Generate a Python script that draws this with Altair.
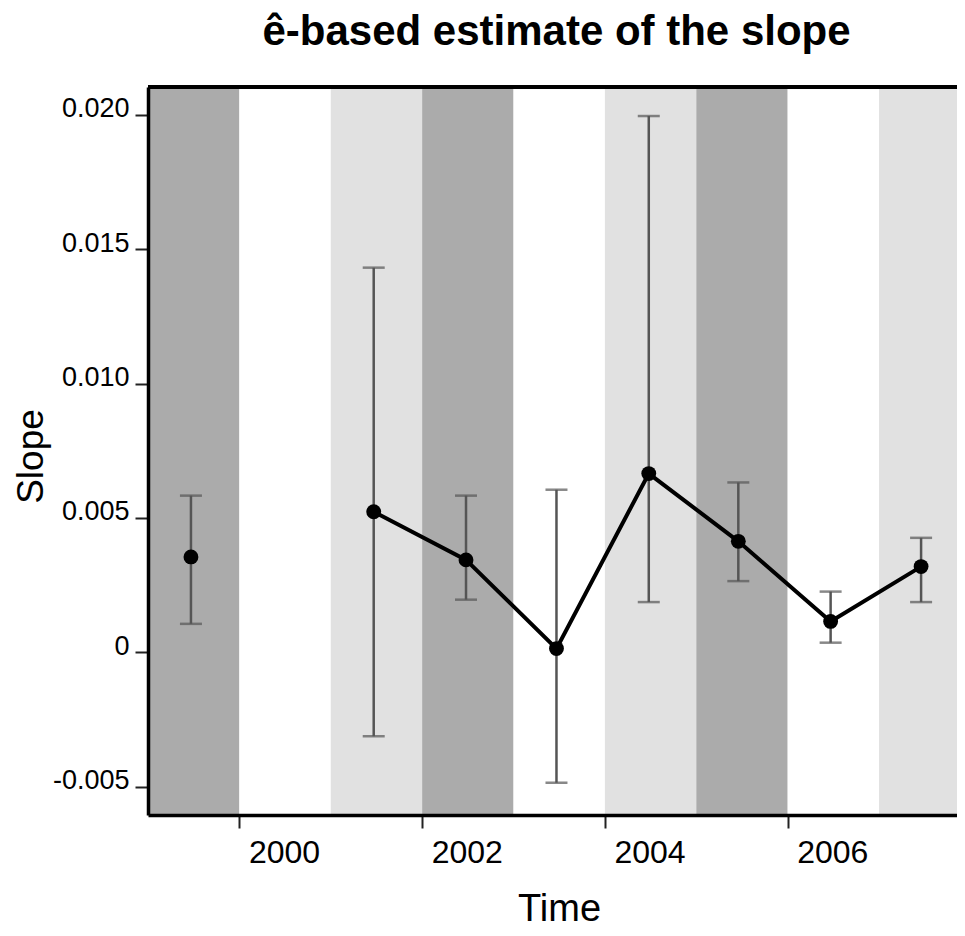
import altair as alt
import pandas as pd

# Point estimates (x = time, mid-year positions)
times = [1999.47, 2001.47, 2002.48, 2003.47, 2004.48, 2005.46, 2006.47, 2007.46]
estimates = [0.00355, 0.00523, 0.00344, 0.00014, 0.00665, 0.00413, 0.00115, 0.00319]
lower = [0.00106, -0.00312, 0.00196, -0.00485, 0.00187, 0.00265, 0.00036, 0.00187]
upper = [0.00583, 0.01431, 0.00583, 0.00605, 0.01995, 0.00632, 0.00226, 0.00426]
segment = [0, 1, 1, 1, 1, 1, 1, 1]

# Background year bands
band_start = [1999, 2000, 2001, 2002, 2003, 2004, 2005, 2006, 2007]
band_end = [2000, 2001, 2002, 2003, 2004, 2005, 2006, 2007, 2008]
band_shade = ["dark", "white", "light", "dark", "white", "light", "dark", "white", "light"]

x_ticks = [2000, 2002, 2004, 2006]
y_ticks = [-0.005, 0, 0.005, 0.010, 0.015, 0.020]

pts = pd.DataFrame({"t": times, "est": estimates, "lo": lower, "hi": upper, "seg": segment})
bands = pd.DataFrame({"start": band_start, "end": band_end, "shade": band_shade})

W, H = 809, 728
FONT = "Liberation Sans"

xscale = alt.Scale(domain=[1999, 2007.853], nice=False, zero=False)
yscale = alt.Scale(domain=[-0.00605, 0.02103], nice=False, zero=False)

x_axis = alt.Axis(
    values=x_ticks, format="d", grid=False, title="Time",
    domainColor="black", domainWidth=3.5, tickColor="#222", tickWidth=2, tickSize=13,
    labelFont=FONT, labelFontSize=32, labelColor="black", labelAlign="left", labelOffset=9,
    labelBaseline="top", labelPadding=9, labelFlush=False, labelOverlap=False,
    titleFont=FONT, titleFontSize=38, titleFontWeight="normal", titleColor="black",
    titleBaseline="alphabetic", titleY=105, titleX=411, zindex=1,
)
y_axis = alt.Axis(
    values=y_ticks, grid=False, title="Slope",
    labelExpr="datum.value == 0 ? '0' : replace(format(datum.value, '.3f'), '\u2212', '-')",
    domainColor="black", domainWidth=3.5, tickColor="#222", tickWidth=2, tickSize=13,
    labelFont=FONT, labelFontSize=27, labelColor="black", labelPadding=6,
    labelBaseline="alphabetic", labelOffset=2, labelFlush=False, labelOverlap=False,
    titleFont=FONT, titleFontSize=37, titleFontWeight="normal", titleColor="black",
    titleBaseline="alphabetic", titleX=-106, titleY=H / 2 + 5, titleAngle=270, zindex=1,
)

band_layer = alt.Chart(bands).mark_rect(clip=True).encode(
    x=alt.X("start:Q", scale=xscale, axis=x_axis),
    x2="end:Q",
    y=alt.value(0),
    y2=alt.value(H),
    color=alt.Color("shade:N", legend=None,
                    scale=alt.Scale(domain=["dark", "white", "light"],
                                    range=["#ababab", "#ffffff", "#e1e1e1"])),
)

base = alt.Chart(pts)

err_layer = base.mark_rule(color="#555555", strokeWidth=2.5).encode(
    x=alt.X("t:Q", scale=xscale),
    y=alt.Y("lo:Q", scale=yscale, axis=y_axis),
    y2="hi:Q",
)
cap_lo = base.mark_tick(color="#555555", thickness=2.5, size=22, orient="horizontal").encode(
    x=alt.X("t:Q", scale=xscale), y=alt.Y("lo:Q", scale=yscale)
)
cap_hi = base.mark_tick(color="#555555", thickness=2.5, size=22, orient="horizontal").encode(
    x=alt.X("t:Q", scale=xscale), y=alt.Y("hi:Q", scale=yscale)
)
line_layer = base.mark_line(color="black", strokeWidth=4).encode(
    x=alt.X("t:Q", scale=xscale), y=alt.Y("est:Q", scale=yscale), detail="seg:N"
)
point_layer = base.mark_circle(color="black", opacity=1, size=220).encode(
    x=alt.X("t:Q", scale=xscale), y=alt.Y("est:Q", scale=yscale)
)
top_frame = alt.Chart(pts).mark_rule(color="black", strokeWidth=3.5).encode(
    x=alt.value(0), x2=alt.value(W), y=alt.value(0)
)

chart = alt.layer(
    band_layer, err_layer, cap_lo, cap_hi, line_layer, point_layer, top_frame
).properties(
    width=W, height=H,
    title=alt.TitleParams(
        "\u00ea-based estimate of the slope", font=FONT, fontSize=42, fontWeight="bold",
        color="black", anchor="middle", offset=31, dx=4,
    ),
    autosize=alt.AutoSizeParams(type="none"),
    padding={"left": 140, "top": 79, "right": 0, "bottom": 113},
).configure_view(stroke=None)

chart.save("out.html", embed_options={"renderer": "svg", "actions": False})
